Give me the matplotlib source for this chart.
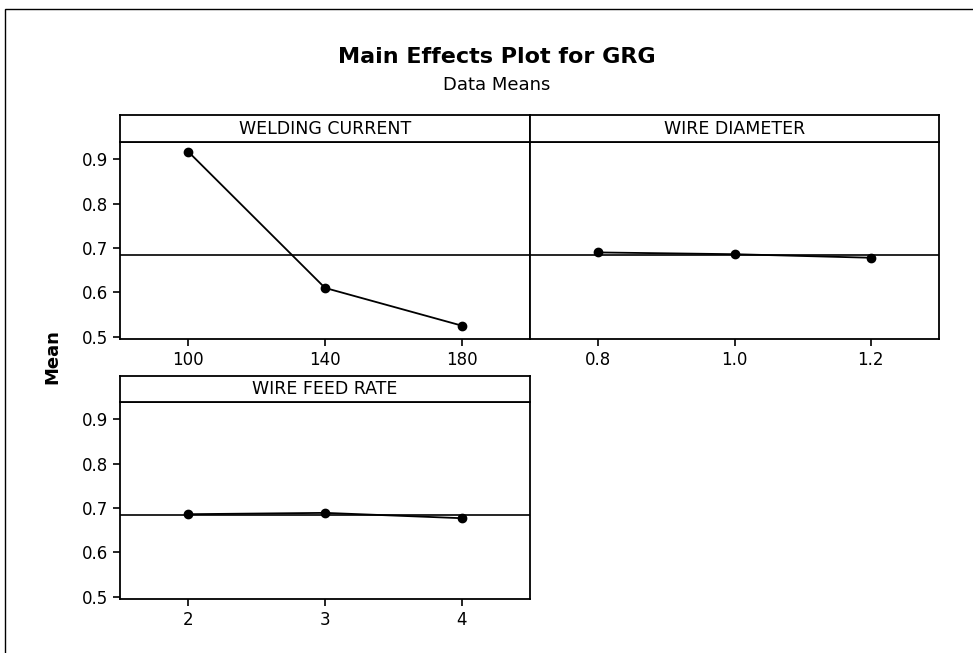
import matplotlib
matplotlib.use('Agg')
import matplotlib.pyplot as plt
from matplotlib.patches import Rectangle

plt.rcParams['font.family'] = ['DejaVu Sans']

# data means per factor level
wc_levels = ['100', '140', '180']
wc_means = [0.917, 0.610, 0.525]
wd_levels = ['0.8', '1.0', '1.2']
wd_means = [0.690, 0.686, 0.678]
wfr_levels = ['2', '3', '4']
wfr_means = [0.686, 0.689, 0.677]
grand_mean = 0.684
yticks = [0.5, 0.6, 0.7, 0.8, 0.9]

W, H = 973, 653
fig = plt.figure(figsize=(W / 100, H / 100), dpi=100)

# outer frame
fig.patches.append(Rectangle((5 / W, -0.1), 1.2, 1 - 9 / H + 0.1, transform=fig.transFigure,
                             fill=False, edgecolor='black', linewidth=1.0))

fig.text(497 / W, 1 - 57 / H, 'Main Effects Plot for GRG', ha='center', va='center',
         fontsize=16, fontweight='bold')
fig.text(497 / W, 1 - 85 / H, 'Data Means', ha='center', va='center', fontsize=13)
fig.text(52 / W, 1 - 357 / H, 'Mean', ha='center', va='center', rotation=90,
         fontsize=13, fontweight='bold')


def panel(x0, x1, strip_top, strip_bot, bottom, name, levels, means, show_y):
    ax = fig.add_axes([x0 / W, 1 - bottom / H, (x1 - x0) / W, (bottom - strip_bot) / H])
    pos = list(range(len(levels)))
    ax.axhline(grand_mean, color='black', linewidth=1.2)
    ax.plot(pos, means, color='black', linewidth=1.3, marker='o', markersize=6)
    ax.set_xlim(-0.5, len(levels) - 0.5)
    ax.set_ylim(0.4948, 0.939)
    ax.set_xticks(pos)
    ax.set_xticklabels(levels)
    ax.set_yticks(yticks)
    ax.set_yticklabels(['%.1f' % v for v in yticks])
    ax.tick_params(direction='out', length=5, width=1.2, labelsize=12, color='black')
    if not show_y:
        ax.tick_params(axis='y', left=False, labelleft=False)
    for s in ax.spines.values():
        s.set_linewidth(1.3)
    sax = fig.add_axes([x0 / W, 1 - strip_bot / H, (x1 - x0) / W, (strip_bot - strip_top) / H])
    sax.set_xticks([])
    sax.set_yticks([])
    for s in sax.spines.values():
        s.set_linewidth(1.3)
    sax.text(0.5, 0.5, name, ha='center', va='center', fontsize=12.5, transform=sax.transAxes)
    return ax


panel(120, 530, 115, 142, 339, 'WELDING CURRENT', wc_levels, wc_means, True)
panel(530, 939, 115, 142, 339, 'WIRE DIAMETER', wd_levels, wd_means, False)
panel(120, 530, 376, 402, 599, 'WIRE FEED RATE', wfr_levels, wfr_means, True)

fig.savefig('out.png', dpi=100)
